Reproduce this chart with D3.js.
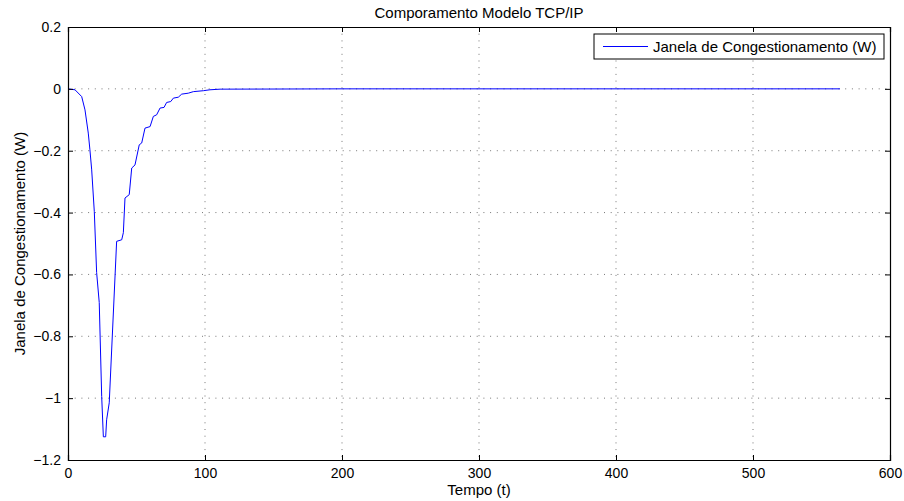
<!DOCTYPE html>
<html>
<head>
<meta charset="utf-8">
<script src="https://cdn.jsdelivr.net/npm/d3@7"></script>
<style>
  body { margin: 0; background: #fff; }
  svg text { font-family: "Liberation Sans", Arial, Helvetica, sans-serif; }
</style>
</head>
<body>
<div id="chart"></div>
<script>
// Data
const tempo = [0, 5.1, 10, 12.4, 14.8, 16, 17.3, 19.2, 20.9, 22.8, 24.6, 25.8, 27.5, 28.2, 30.1,
  35.5, 39.2, 40.4, 41.6, 44.7, 46.5, 48.9, 52, 53.8, 56.2, 59.9, 62.3, 64.7, 67.2, 70.1, 72,
  75, 76.9, 80.5, 83, 87.8, 91.5, 98.8, 103.6, 111, 200, 300, 400, 500, 563.5]
const janela = [0, -0.003, -0.025, -0.068, -0.143, -0.197, -0.262, -0.397, -0.594, -0.691, -0.995, -1.125, -1.125, -1.07, -1.015,
  -0.493, -0.488, -0.465, -0.353, -0.342, -0.256, -0.246, -0.181, -0.175, -0.127, -0.122, -0.089, -0.084, -0.062, -0.060, -0.044,
  -0.041, -0.030, -0.027, -0.017, -0.014, -0.009, -0.006, -0.003, -0.001, 0, 0, 0, 0, 0]
const xTicks = [0, 100, 200, 300, 400, 500, 600]
const yTicks = [-1.2, -1, -0.8, -0.6, -0.4, -0.2, 0, 0.2]
const serieNome = 'Janela de Congestionamento (W)'

const dataset = tempo.map((t, i) => ({ t: t, w: janela[i] }))

// Dimension
let dimension = {
  width: 904,
  height: 501,
  margin: { top: 27, bottom: 41, left: 68, right: 14 }
}
dimension.ctrwidth = dimension.width - dimension.margin.left - dimension.margin.right
dimension.ctrheight = dimension.height - dimension.margin.top - dimension.margin.bottom

const svg = d3.select('#chart').append('svg')
  .attr('width', dimension.width)
  .attr('height', dimension.height)

const ctr = svg.append('g')
  .attr('transform', `translate(${dimension.margin.left}, ${dimension.margin.top})`)

// Scales
const xScale = d3.scaleLinear().domain([0, 600]).range([0, dimension.ctrwidth])
const yScale = d3.scaleLinear().domain([-1.2, 0.2]).range([dimension.ctrheight, 0])

const fmt = d => (d < 0 ? '\u2212' : '') + d3.format('~g')(Math.abs(d))

// Grid (MATLAB style dotted)
const gridColor = '#777'
ctr.append('g').selectAll('line')
  .data(xTicks.slice(1, -1))
  .join('line')
  .attr('x1', d => xScale(d)).attr('x2', d => xScale(d))
  .attr('y1', 0).attr('y2', dimension.ctrheight)
  .attr('stroke', gridColor).attr('stroke-width', 1)
  .attr('stroke-dasharray', '1,5.7')

ctr.append('g').selectAll('line')
  .data(yTicks.slice(1, -1))
  .join('line')
  .attr('x1', 0).attr('x2', dimension.ctrwidth)
  .attr('y1', d => yScale(d)).attr('y2', d => yScale(d))
  .attr('stroke', gridColor).attr('stroke-width', 1)
  .attr('stroke-dasharray', '1,5.7')

// Line
const line = d3.line().x(d => xScale(d.t)).y(d => yScale(d.w))
ctr.append('path')
  .datum(dataset)
  .attr('d', line)
  .attr('fill', 'none')
  .attr('stroke', '#0000ff')
  .attr('stroke-width', 1)

// Axes
const xAxis = d3.axisBottom(xScale).tickValues(xTicks).tickSize(-5).tickPadding(8).tickFormat(fmt)
const xAxisTop = d3.axisTop(xScale).tickValues(xTicks).tickSize(-5).tickFormat('')
const yAxis = d3.axisLeft(yScale).tickValues(yTicks).tickSize(-5).tickPadding(7).tickFormat(fmt)
const yAxisRight = d3.axisRight(yScale).tickValues(yTicks).tickSize(-5).tickFormat('')

const axes = [
  ctr.append('g').attr('transform', `translate(0, ${dimension.ctrheight})`).call(xAxis),
  ctr.append('g').call(xAxisTop),
  ctr.append('g').call(yAxis),
  ctr.append('g').attr('transform', `translate(${dimension.ctrwidth}, 0)`).call(yAxisRight)
]
axes.forEach(g => {
  g.select('.domain').attr('stroke', '#000').attr('stroke-width', 1.2)
  g.selectAll('.tick line').attr('stroke', '#000')
  g.selectAll('text').attr('font-size', 14).attr('fill', '#000')
})

// Labels
svg.append('text')
  .attr('x', dimension.margin.left + dimension.ctrwidth / 2)
  .attr('y', 18)
  .attr('text-anchor', 'middle')
  .attr('font-size', 15)
  .text('Comporamento Modelo TCP/IP')

svg.append('text')
  .attr('x', dimension.margin.left + dimension.ctrwidth / 2)
  .attr('y', 495)
  .attr('text-anchor', 'middle')
  .attr('font-size', 15)
  .text('Tempo (t)')

svg.append('text')
  .attr('transform', `translate(25, ${dimension.margin.top + dimension.ctrheight / 2}) rotate(-90)`)
  .attr('text-anchor', 'middle')
  .attr('font-size', 15)
  .text('Janela de Congestionamento (W)')

// Legend
const legend = ctr.append('g').attr('transform', `translate(${594 - 68}, ${34 - 27})`)
legend.append('rect')
  .attr('width', 290).attr('height', 25)
  .attr('fill', '#fff').attr('stroke', '#000')
legend.append('line')
  .attr('x1', 9).attr('x2', 54).attr('y1', 12.5).attr('y2', 12.5)
  .attr('stroke', '#0000ff')
legend.append('text')
  .attr('x', 59).attr('y', 18)
  .attr('font-size', 15)
  .text(serieNome)
</script>
</body>
</html>
